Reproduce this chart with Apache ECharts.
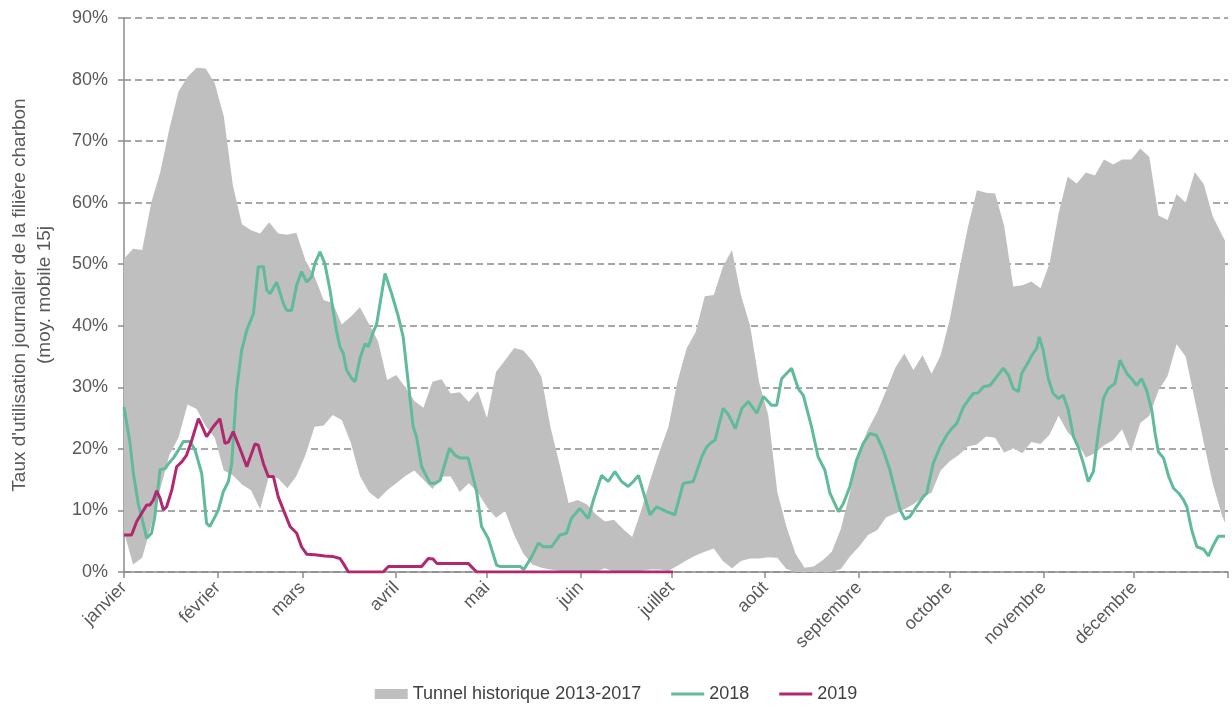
<!DOCTYPE html>
<html>
<head>
<meta charset="utf-8">
<title>Taux d'utilisation filière charbon</title>
<script src="https://cdn.jsdelivr.net/npm/echarts@6.0.0/dist/echarts.min.js"></script>
<style>
  html, body { margin: 0; padding: 0; background: #fff; }
  #chart { width: 1232px; height: 716px; }
</style>
</head>
<body>
<div id="chart"></div>
<script>
// mois (jour de l'année, base 0, année de 365 jours)
const monthNames = ["janvier", "février", "mars", "avril", "mai", "juin", "juillet", "août", "septembre", "octobre", "novembre", "décembre"];
const monthStarts = [0, 31, 59, 90, 120, 151, 181, 212, 243, 273, 304, 334];

// tunnel historique 2013-2017 : min / max (%), relevés tous les 3 jours
const bandDays = [0,3,6,9,12,15,18,21,24,27,30,33,36,39,42,45,48,51,54,57,60,63,66,69,72,75,78,81,84,87,90,93,96,99,102,105,108,111,114,117,120,123,126,129,132,135,138,141,144,147,150,153,156,159,162,165,168,171,174,177,180,183,186,189,192,195,198,201,204,207,210,213,216,219,222,225,228,231,234,237,240,243,246,249,252,255,258,261,264,267,270,273,276,279,282,285,288,291,294,297,300,303,306,309,312,315,318,321,324,327,330,333,336,339,342,345,348,351,354,357,360,363,364];
const tunnelMax = [50.9,52.5,52.3,60,65,72,78,80.4,81.9,81.8,79.4,74,62.8,56.5,55.5,55,56.8,55,54.8,55.1,50.6,48,44.2,43.7,40.2,41.5,43,40.3,37.5,31.2,32,30,27.8,26.7,30.9,31.3,29,29.2,27.6,29.4,25,32.5,34.4,36.4,36,34.3,31.7,23.5,17.5,11.2,11.7,11,9.4,8.2,8.5,7,5.7,10,15,19.5,23.6,31,36.3,39,44.8,45,49.6,52.3,44.9,40,30.8,25.5,13,7.4,3,0.7,0.9,1.9,3.3,7,12.9,19.5,23.2,26,29.5,33.2,35.5,32.8,35.2,32.2,35.2,41,48.7,56,62,61.6,61.5,56.2,46.4,46.6,47.2,46.1,50.1,58.3,64.2,63.1,64.9,64.4,67,66.2,67,67,68.8,67.4,57.9,57.2,61.4,60,65,63,57.7,54.8,53.8];
const tunnelMin = [6.5,1.2,2.3,7.5,13.5,19,21.8,27.2,26.5,23.7,21.8,16.5,15.7,14.2,13.3,10.2,15.7,15.2,13.6,15.6,19,23.6,23.8,25.5,24.7,21,15.6,13,11.8,13.3,14.4,15.6,16.5,15,13.5,15.5,15.5,13,14.4,12.9,10.5,8.8,9.9,6,3,1.2,0.7,0.4,0.2,0,0,0,0,0.6,0,0,0,0.2,0.4,0.4,0.2,1,1.9,2.7,3.3,3.8,1.8,0.6,1.8,2.2,2.2,2.4,2.3,0.5,0,0,0,0,0,0.5,2.5,4.1,6,6.8,8.9,9.5,10.2,11,12.1,12.9,16.5,18,19,20.4,20.7,22,21.8,19.4,20.1,19.3,21.1,20.8,22.3,25.4,22.7,21.2,18.6,19.3,20.6,21.4,23.2,19.5,24.2,25.4,29.5,31.8,37,35,28,21,14.3,9.2,8];

// 2018
const days2018 = [0,2,3.1,4.7,5.8,7.5,9.1,10.2,11.9,13.6,14.7,16.3,18,19.6,21.8,23.5,25.7,27.3,28.4,30.1,31.2,32.8,34.5,35.6,37.2,38.9,40.6,42.8,44.4,46.1,47.2,48.3,50.5,52.7,53.8,55.4,57.1,58.7,60.4,62,63.1,64.8,66.4,68.1,69.2,70.3,71.4,72.5,73.6,75.3,76.4,78,79.7,80.8,82.4,83.5,86.3,88.5,90.7,92.3,93.4,95.6,96.7,98.4,101.2,102.9,104.5,106.1,107.6,109.4,111.1,113.8,116.6,118.2,120.4,123.2,124.3,131,132.2,134.8,137,138.6,141.4,144.1,146.3,147.9,150.7,153.5,155.2,157.9,160.1,162.3,164.5,166.7,168.4,170.1,171.7,173.9,176.1,179.4,182.1,184.9,188.2,191,192.6,194.3,195.4,198.1,199.9,202.1,204.3,206.4,209.2,211.4,214.1,215.8,217.4,220.7,222.9,224.6,227.3,229.5,231.7,233.4,236.2,237.8,240,242.2,244.4,246.6,248.8,251,253.2,254.9,256.6,258.2,259.8,262,264.2,265.4,267.5,269.8,272,273.6,275.3,277.5,279.1,280.8,282.4,284.1,286.3,288.5,290.7,292.4,294,295.7,296.8,299,300.1,301.7,302.6,303.9,305.6,307.2,308.9,310.5,312.2,313.9,315.5,317.2,318.8,320.5,322.1,323.8,325.4,327.6,329.3,331.5,333.1,334.8,336.4,338.1,339.8,340.9,342,343.7,345.4,347,348.7,350.3,351.4,353,354.7,356.9,358.5,360.2,361.8,364];
const vals2018 = [26.8,20.9,16,11.1,9,5.5,6.3,9,16.6,16.8,17.6,18.5,19.8,21.2,21.2,19.8,16,7.9,7.4,9,10.1,13,14.7,17.6,29.5,36,39.3,42,49.6,49.6,45.8,45.2,47.1,43.6,42.5,42.5,46.6,48.8,47.1,47.9,50.1,52,50.1,45.8,42.3,39,36.6,35.5,32.8,31.4,30.9,34.7,37.1,36.6,39,40.2,48.5,45.2,41.5,38.2,33.3,23.6,22,17.1,14.4,14.4,14.9,17.6,20.1,19,18.5,18.5,13,7.4,5.5,1.1,0.9,0.9,0.4,2.5,4.7,4.1,4.1,6,6.3,8.7,10.3,8.7,11.7,15.7,14.7,16.3,14.7,13.9,14.7,15.7,13,9.3,10.6,9.8,9.3,14.4,14.7,18.7,20.3,21.1,21.4,26.6,25.5,23.3,26.6,27.7,25.8,28.5,27.1,27.1,31.4,33.1,29.8,28.7,23.6,18.7,16.6,12.8,9.8,11.1,13.9,18.2,20.9,22.5,22.2,19.8,16.6,13.3,10.1,8.6,9,10.6,12.2,12.8,17.6,20.3,22.2,23.3,24.1,26.8,27.9,29,29.1,30.1,30.3,31.7,33.1,32,29.8,29.3,32.3,34.1,35.2,36.3,38.2,36,31.4,29,28.2,28.7,26.3,22,20.3,17.6,14.7,16.3,22.5,28.2,29.8,30.6,34.4,32.3,31.4,30.3,31.4,29.5,26.3,22.5,19.5,18.5,15.5,13.6,12.8,11.7,10.6,6.8,4.1,3.7,2.6,4.4,5.8,5.8];

// 2019 (jusqu'à début juillet)
const days2019 = [0,2.5,4.2,5.8,7.5,8.6,9.7,10.8,11.9,13,14.1,15.8,17.4,19.1,20.7,22.4,24.6,25.7,27.3,29.5,31.7,33.4,34.5,36.1,38.3,40.6,42.2,43.3,44.4,46.1,47.7,49.4,51,52.7,54.9,57.1,58.7,60.4,63.1,66.4,69.2,71.4,72.5,74.2,85.7,87.4,98.4,100.6,102.2,103.4,113.8,116.6,181.5];
const vals2019 = [6,6,8.2,9.5,10.9,10.9,11.7,13.2,12,10.1,10.6,13.3,17.1,17.9,19,21.4,24.9,23.8,22,23.6,24.9,20.9,21.1,22.8,20.1,17.1,19.3,20.8,20.6,17.6,15.5,15.5,12.2,10.1,7.4,6.3,4.1,2.9,2.8,2.6,2.5,2.2,1.4,0,0,0.9,0.9,2.2,2.1,1.4,1.4,0,0];

const FONT = "Liberation Sans";
const TXT = "#595959";
const AXIS = "#8c8c8c";

// axe caché (catégories = jours 0..365) pour empiler le tunnel
let dayCats = [];
for (let i = 0; i <= 365; i++) dayCats.push(String(i));

let myChart = echarts.init(document.getElementById("chart"));

let option = {
  animation: false,
  textStyle: { fontFamily: FONT },
  grid: { left: 124, right: 4, top: 18, bottom: 144, containLabel: false, outerBoundsMode: "none" },
  legend: {
    bottom: 8,
    left: "center",
    itemWidth: 33,
    itemHeight: 10,
    itemGap: 30,
    textStyle: { fontFamily: FONT, fontSize: 18, color: "#3f3f3f" },
    data: [
      { name: "Tunnel historique 2013-2017", icon: "rect" },
      { name: "2018", icon: "path://M0,0H33V3H0Z" },
      { name: "2019", icon: "path://M0,0H33V3H0Z" }
    ]
  },
  xAxis: [
    {
      type: "value",
      min: 0,
      max: 365,
      axisLine: { show: true, lineStyle: { color: AXIS, width: 1.5 } },
      axisTick: { show: true, length: 6, customValues: monthStarts.concat([365]), lineStyle: { color: AXIS, width: 1.5 } },
      axisLabel: {
        customValues: monthStarts,
        rotate: 45,
        margin: 13,
        fontFamily: FONT,
        fontSize: 18,
        color: TXT,
        formatter: function (v) {
          let i = monthStarts.indexOf(v);
          return i >= 0 ? monthNames[i] : "";
        }
      },
      splitLine: { show: false }
    },
    {
      type: "category",
      data: dayCats,
      boundaryGap: false,
      show: false
    }
  ],
  yAxis: {
    type: "value",
    min: 0,
    max: 90,
    interval: 10,
    name: "Taux d'utilisation journalier de la filière charbon\n(moy. mobile 15j",
    nameLocation: "middle",
    nameRotate: 90,
    nameGap: 67,
    nameTextStyle: { fontFamily: FONT, fontSize: 19, color: TXT, lineHeight: 25, align: "center" },
    axisLine: { show: true, lineStyle: { color: AXIS, width: 1.5 } },
    axisTick: { show: true, length: 6, lineStyle: { color: AXIS, width: 1.5 } },
    axisLabel: { formatter: "{value}%", fontFamily: FONT, fontSize: 18, color: TXT, margin: 16 },
    splitLine: { show: true, lineStyle: { type: [7, 4], color: AXIS, width: 1.5 } }
  },
  series: [
    {
      name: "tunnel-min",
      type: "line",
      xAxisIndex: 1,
      stack: "tunnel",
      symbol: "none",
      lineStyle: { width: 0, opacity: 0 },
      data: bandDays.map((d, i) => [d, tunnelMin[i]])
    },
    {
      name: "Tunnel historique 2013-2017",
      type: "line",
      xAxisIndex: 1,
      stack: "tunnel",
      symbol: "none",
      itemStyle: { color: "#bfbfbf" },
      lineStyle: { width: 0, opacity: 0 },
      areaStyle: { color: "#bfbfbf", opacity: 1 },
      data: bandDays.map((d, i) => [d, tunnelMax[i] - tunnelMin[i]])
    },
    {
      name: "2018",
      type: "line",
      symbol: "none",
      itemStyle: { color: "#5fbb98" },
      lineStyle: { color: "#5fbb98", width: 3 },
      data: days2018.map((d, i) => [d, vals2018[i]])
    },
    {
      name: "2019",
      type: "line",
      symbol: "none",
      itemStyle: { color: "#b2286e" },
      lineStyle: { color: "#b2286e", width: 3 },
      data: days2019.map((d, i) => [d, vals2019[i]])
    }
  ]
};

myChart.setOption(option);
</script>
</body>
</html>
